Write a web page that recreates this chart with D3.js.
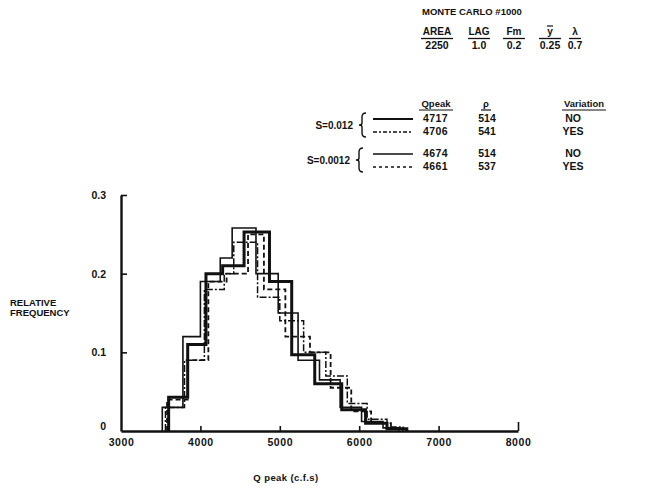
<!DOCTYPE html>
<html>
<script src='https://d3js.org/d3.v7.min.js'></script>
<style>
    body { margin: 0; background: #fff; }
    text { font-family: 'Liberation Sans', Arial, sans-serif; font-weight: bold; fill: #111; }
    .hist { fill: none; stroke: #111; }
</style>

<body onload='init()'>
    <svg width=648 height=490></svg>
    <script>
        // bin edges (c.f.s) and relative frequencies
        const edgesA = [3600, 3840, 4070, 4280, 4550, 4870, 5150, 5440, 5780, 6080, 6350, 6600];
        const freqA = [0.043, 0.11, 0.20, 0.21, 0.253, 0.19, 0.097, 0.06, 0.027, 0.01, 0.003];
        const edgesB = [3560, 3800, 4050, 4300, 4420, 4720, 5000, 5300, 5580, 5850, 6100, 6350, 6550];
        const freqB = [0.03, 0.09, 0.18, 0.20, 0.24, 0.17, 0.14, 0.10, 0.07, 0.035, 0.015, 0.005];
        const edgesC = [3520, 3780, 4000, 4250, 4400, 4700, 4980, 5230, 5500, 5760, 6030, 6300, 6500];
        const freqC = [0.03, 0.12, 0.19, 0.22, 0.258, 0.20, 0.15, 0.09, 0.065, 0.03, 0.012, 0.004];
        const edgesD = [3580, 3840, 4100, 4330, 4600, 4800, 5070, 5380, 5640, 5900, 6150, 6400, 6600];
        const freqD = [0.04, 0.09, 0.19, 0.20, 0.25, 0.18, 0.12, 0.10, 0.055, 0.025, 0.01, 0.003];

        const xTicks = [3000, 4000, 5000, 6000, 7000, 8000];
        const yTicks = [0, 0.1, 0.2, 0.3];

        const qpeak = ['4717', '4706', '4674', '4661'];
        const rho = ['514', '541', '514', '537'];
        const variation = ['NO', 'YES', 'NO', 'YES'];
        const groups = ['S=0.012', 'S=0.0012'];

        const paramNames = ['AREA', 'LAG', 'Fm', 'y', 'λ'];
        const paramValues = ['2250', '1.0', '0.2', '0.25', '0.7'];

        function init() {
            const svg = d3.select('svg');
            const x = d3.scaleLinear().domain([3000, 8000]).range([121, 518]);
            const y = d3.scaleLinear().domain([0, 0.3]).range([431, 195]);

            // axes
            const xa = svg.append('g').attr('transform', 'translate(0,431)')
                .call(d3.axisBottom(x).tickValues(xTicks).tickSizeInner(-5).tickSizeOuter(0).tickPadding(8)
                    .tickFormat(d3.format('d')));
            const ya = svg.append('g').attr('transform', 'translate(121,0)')
                .call(d3.axisLeft(y).tickValues(yTicks).tickSizeInner(-6).tickSizeOuter(0).tickPadding(15)
                    .tickFormat(d => d === 0 ? '0' : d3.format('.1f')(d)));
            [xa, ya].forEach(g => {
                g.select('.domain').attr('stroke', '#111').attr('stroke-width', 2.4);
                g.selectAll('.tick line').attr('stroke', '#111').attr('stroke-width', 1.6);
                g.selectAll('text').style('font-size', '10.5px').style('font-weight', 'bold')
                    .style('font-family', "'Liberation Sans', Arial, sans-serif");
            });
            xa.selectAll('text').style('letter-spacing', '0.6px');
            xa.selectAll('.tick').filter(d => d === 3000).select('line').remove();
            xa.selectAll('.tick').filter(d => d === 8000).select('line').attr('y2', -9);
            ya.selectAll('.tick').filter(d => d === 0).select('line').remove();
            ya.selectAll('.tick').filter(d => d === 0).select('text').attr('dy', '-0.1em').attr('x', -15);

            // histograms as step lines
            const line = d3.line().x(d => x(d[0])).y(d => y(d[1])).curve(d3.curveStepAfter);
            function pts(edges, freq) {
                const p = [[edges[0], 0]];
                freq.forEach((f, i) => p.push([edges[i], f]));
                p.push([edges[edges.length - 1], 0]);
                return p;
            }
            const series = [
                { e: edgesC, f: freqC, w: 1.6, dash: null },
                { e: edgesD, f: freqD, w: 1.8, dash: '5,3' },
                { e: edgesB, f: freqB, w: 1.5, dash: '7,2,2,2' },
                { e: edgesA, f: freqA, w: 3, dash: null }
            ];
            svg.append('g').selectAll('path').data(series).enter().append('path')
                .attr('class', 'hist')
                .attr('d', s => line(pts(s.e, s.f)))
                .attr('stroke-width', s => s.w)
                .attr('stroke-dasharray', s => s.dash);

            // axis titles
            svg.append('text').attr('x', 10).attr('y', 306).style('font-size', '9.5px').text('RELATIVE');
            svg.append('text').attr('x', 10).attr('y', 316).style('font-size', '9.5px').text('FREQUENCY');
            svg.append('text').attr('x', 286).attr('y', 481).attr('text-anchor', 'middle')
                .style('font-size', '9.5px').style('letter-spacing', '0.4px').text('Q peak (c.f.s)');

            // header
            svg.append('text').attr('x', 422).attr('y', 15).style('font-size', '9.5px').text('MONTE CARLO #1000');
            const px = [437, 479, 514, 550, 575];
            const pg = svg.append('g').selectAll('g').data(paramNames).enter().append('g');
            pg.append('text').attr('x', (d, i) => px[i]).attr('y', 35).attr('text-anchor', 'middle')
                .style('font-size', '10px').text(d => d);
            pg.append('text').attr('x', (d, i) => px[i]).attr('y', 49).attr('text-anchor', 'middle')
                .style('font-size', '10.5px').text((d, i) => paramValues[i]);
            pg.append('line')
                .attr('x1', (d, i) => px[i] - (i === 0 ? 16 : i === 4 ? 6 : 11))
                .attr('x2', (d, i) => px[i] + (i === 0 ? 16 : i === 4 ? 6 : 11))
                .attr('y1', 38.5).attr('y2', 38.5).attr('stroke', '#111').attr('stroke-width', 1.3);
            // bar over the y
            pg.filter(d => d === 'y').append('line')
                .attr('x1', px[3] - 3).attr('x2', px[3] + 3).attr('y1', 26).attr('y2', 26)
                .attr('stroke', '#111').attr('stroke-width', 1.2);

            // legend table
            const heads = [['Qpeak', 436, 34], ['ρ', 486, 10], ['Variation', 584, 44]];
            heads.forEach(h => {
                svg.append('text').attr('x', h[1]).attr('y', 107).attr('text-anchor', 'middle')
                    .style('font-size', '9.5px').text(h[0]);
                svg.append('line').attr('x1', h[1] - h[2] / 2).attr('x2', h[1] + h[2] / 2)
                    .attr('y1', 110).attr('y2', 110).attr('stroke', '#111').attr('stroke-width', 1.2);
            });
            const rowY = [122, 135, 157, 170];
            const rows = svg.append('g').selectAll('g').data(qpeak).enter().append('g');
            rows.append('text').attr('x', 423).attr('y', (d, i) => rowY[i]).style('font-size', '10.5px')
                .style('letter-spacing', '0.4px').text(d => d);
            rows.append('text').attr('x', 487).attr('y', (d, i) => rowY[i]).attr('text-anchor', 'middle')
                .style('font-size', '10.5px').text((d, i) => rho[i]);
            rows.append('text').attr('x', 573).attr('y', (d, i) => rowY[i]).attr('text-anchor', 'middle')
                .style('font-size', '10.5px').text((d, i) => variation[i]);
            const legStyle = [[2.2, null], [1.3, '4,2,2,2'], [1.6, null], [1.3, '3,3']];
            rows.append('line').attr('x1', 373).attr('x2', 413)
                .attr('y1', (d, i) => rowY[i] - 3).attr('y2', (d, i) => rowY[i] - 3)
                .attr('stroke', '#111')
                .attr('stroke-width', (d, i) => legStyle[i][0])
                .attr('stroke-dasharray', (d, i) => legStyle[i][1]);

            // group labels with braces
            const gy = [129, 164];
            const gx = [353, 350];
            groups.forEach((g, i) => {
                svg.append('text').attr('x', gx[i]).attr('y', gy[i]).attr('text-anchor', 'end')
                    .style('font-size', '10px').text(g);
                const bx = gx[i] + 9, top = rowY[i * 2] - 9, bot = rowY[i * 2 + 1] + 2, mid = (top + bot) / 2;
                svg.append('path')
                    .attr('d', `M${bx + 4},${top} Q${bx},${top} ${bx},${top + 4} L${bx},${mid - 2} Q${bx},${mid} ${bx - 3},${mid} Q${bx},${mid} ${bx},${mid + 2} L${bx},${bot - 4} Q${bx},${bot} ${bx + 4},${bot}`)
                    .attr('fill', 'none').attr('stroke', '#111').attr('stroke-width', 1.4);
            });
        }
    </script>
</body>

</html>
